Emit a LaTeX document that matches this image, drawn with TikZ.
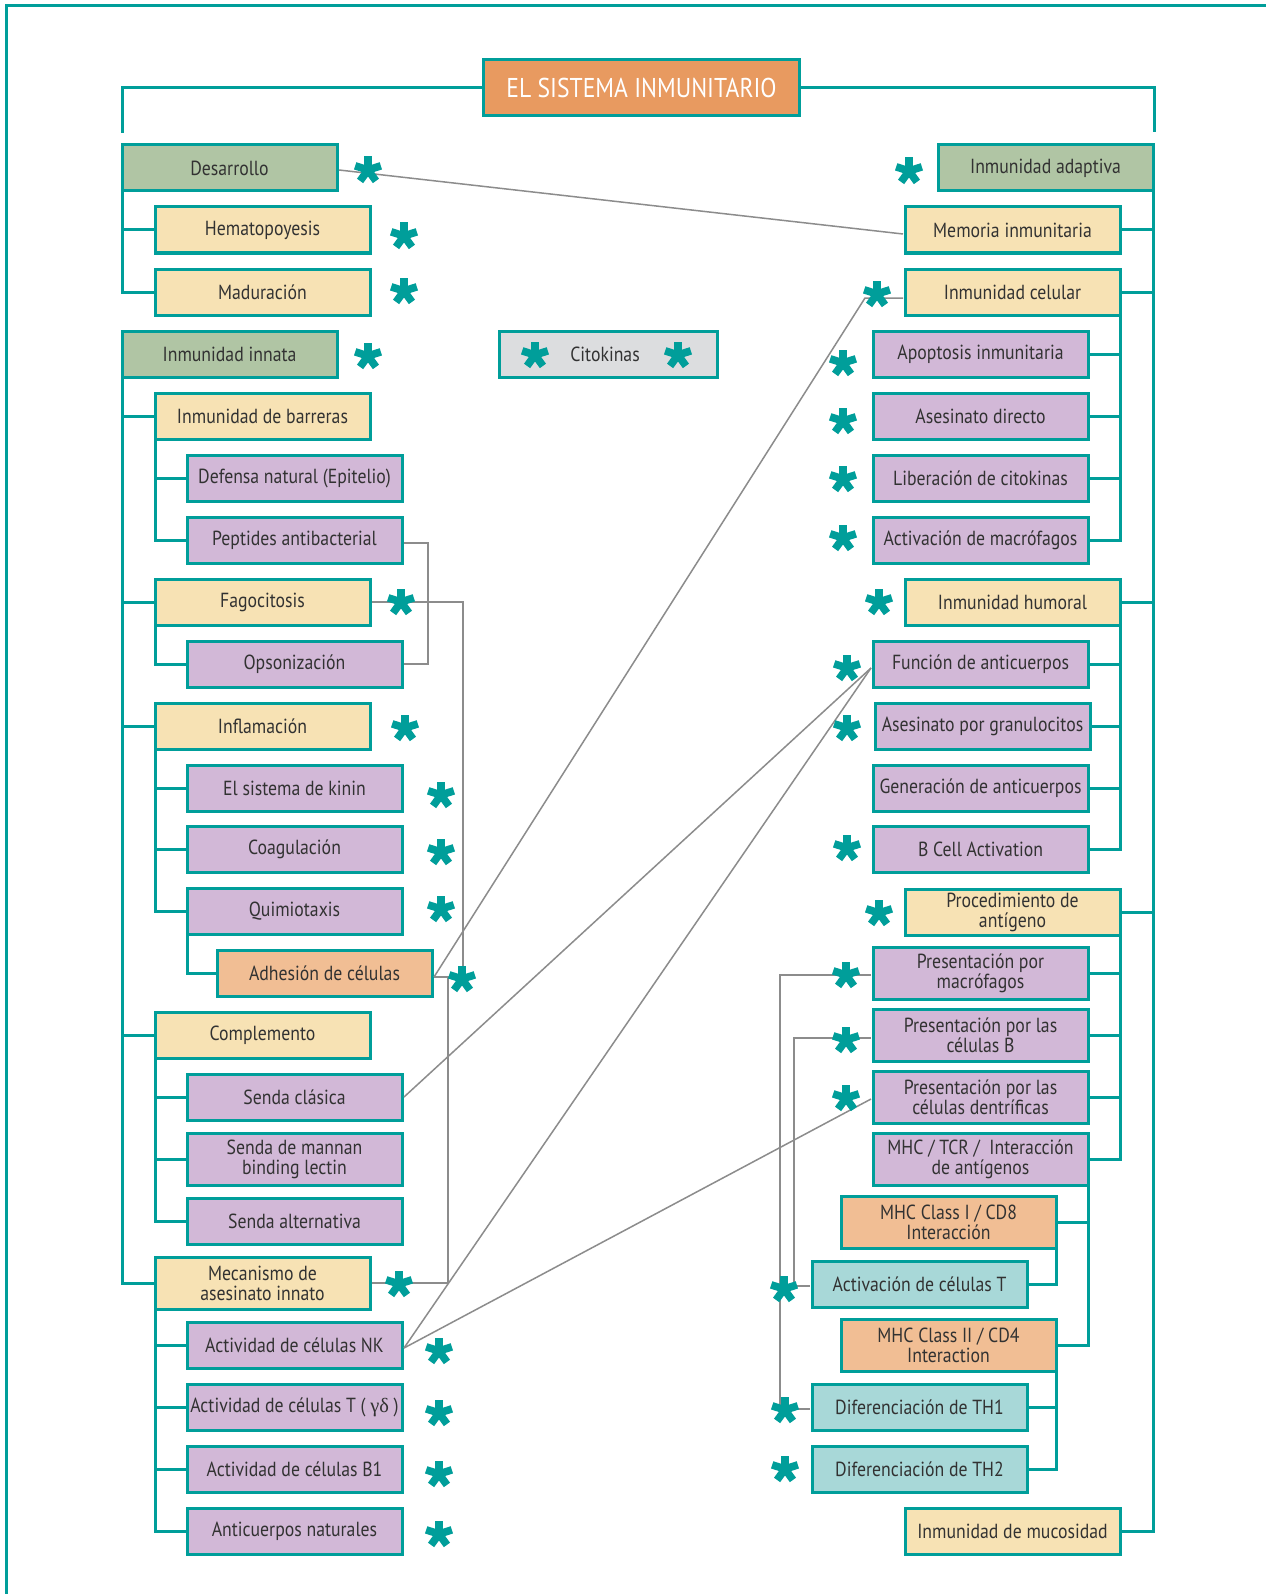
\documentclass[tikz,border=0pt]{standalone}
\usepackage{fontspec}
\setmainfont{PT Sans}[FakeStretch=0.87]
\newfontfamily\grk{Liberation Serif}
\definecolor{tl}{RGB}{0,158,154}
\definecolor{cgreen}{RGB}{176,197,164}
\definecolor{cyel}{RGB}{247,226,180}
\definecolor{cpur}{RGB}{210,184,215}
\definecolor{csal}{RGB}{241,190,148}
\definecolor{ccyan}{RGB}{168,216,216}
\definecolor{ctitle}{RGB}{232,154,96}
\definecolor{cgrey}{RGB}{220,221,223}
\definecolor{cline}{RGB}{140,140,140}
\definecolor{ctxt}{RGB}{50,50,50}
\newcommand\bxfont{\fontsize{10.2}{10}\selectfont}
\newcommand\ttlfont{\fontsize{13.6}{15}\selectfont}
\begin{document}
\begin{tikzpicture}[x=0.5pt,y=-0.5pt,
  bx/.style={draw=tl,line width=1.5pt,outer sep=0pt,minimum width=107.5pt,minimum height=23pt,inner sep=0pt,anchor=west,align=center,text=ctxt,font=\bxfont},
  tall/.style={minimum height=26pt},
  gr/.style={bx,fill=cgreen}, ye/.style={bx,fill=cyel}, pu/.style={bx,fill=cpur},
  sa/.style={bx,fill=csal}, cy/.style={bx,fill=ccyan},
  tree/.style={draw=tl,line width=1.5pt},
  link/.style={draw=cline,line width=0.75pt},
  ast/.pic={\foreach \a in {270,342,54,126,198}\draw[tl,line width=3.8pt](0,0)--(\a:13.5);}
]
\useasboundingbox (0,0) rectangle (1266,1594);
\fill[white] (0,0) rectangle (1266,1594);
% frame
\coordinate (fa) at (6,1594);
\coordinate (fb) at (6,6);
\coordinate (fc) at (1266,6);
\draw[tree] (fa) -- (fb) -- (fc);

% title
\node[draw=tl,line width=1.5pt,outer sep=0pt,fill=ctitle,minimum width=158pt,minimum height=28pt,inner sep=0pt,text=white,font=\ttlfont] (T) at (641.5,88) {EL SISTEMA INMUNITARIO};
\coordinate (tl0) at (122,133);
\coordinate (tr0) at (1154,132);
\draw[tree] (tl0) |- (T.west);
\draw[tree] (tr0) |- (T.east);

% legend
\node[bx,fill=cgrey,anchor=center,minimum width=109pt] (C) at (608,354) {\hspace*{-3pt}Citokinas};

% left column
\node[gr] (L0) at (122,168) {Desarrollo};
\node[ye] (L1) at (155,230) {Hematopoyesis};
\node[ye] (L2) at (155,292) {Maduración};
\node[gr] (L3) at (122,354) {Inmunidad innata};
\node[ye] (L4) at (155,416) {Inmunidad de barreras};
\node[pu] (L5) at (187,478) {Defensa natural (Epitelio)};
\node[pu] (L6) at (187,540) {Peptides antibacterial};
\node[ye] (L7) at (155,602) {Fagocitosis};
\node[pu] (L8) at (187,664) {Opsonización};
\node[ye] (L9) at (155,726) {Inflamación};
\node[pu] (L10) at (187,788) {El sistema de kinin};
\node[pu] (L11) at (187,849) {Coagulación};
\node[pu] (L12) at (187,911) {Quimiotaxis};
\node[sa] (L13) at (217,973) {Adhesión de células};
\node[ye] (L14) at (155,1035) {Complemento};
\node[pu] (L15) at (187,1097) {Senda clásica};
\node[pu,tall] (L16) at (187,1159) {Senda de mannan\\binding lectin};
\node[pu] (L17) at (187,1221) {Senda alternativa};
\node[ye,tall] (L18) at (155,1283) {Mecanismo de\\asesinato innato};
\node[pu] (L19) at (187,1345) {Actividad de células NK};
\node[pu] (L20) at (187,1407) {Actividad de células T ( {\grk γδ} )};
\node[pu] (L21) at (187,1469) {Actividad de células B1};
\node[pu] (L22) at (187,1531) {Anticuerpos naturales};

% right column
\node[gr] (R0) at (938,168) {Inmunidad adaptiva};
\node[ye] (R1) at (905,230) {Memoria inmunitaria};
\node[ye] (R2) at (905,292) {Inmunidad celular};
\node[pu] (R3) at (873,354) {Apoptosis inmunitaria};
\node[pu] (R4) at (873,416) {Asesinato directo};
\node[pu] (R5) at (873,478) {Liberación de citokinas};
\node[pu] (R6) at (873,540) {Activación de macrófagos};
\node[ye] (R7) at (905,602) {Inmunidad humoral};
\node[pu] (R8) at (873,664) {Función de anticuerpos};
\node[pu] (R9) at (875,726) {Asesinato por granulocitos};
\node[pu] (R10) at (873,788) {Generación de anticuerpos};
\node[pu] (R11) at (873,849) {B Cell Activation};
\node[ye] (R12) at (905,912) {Procedimiento de\\antígeno};
\node[pu,tall] (R13) at (873,973) {Presentación por\\macrófagos};
\node[pu,tall] (R14) at (873,1035) {Presentación por las\\células B};
\node[pu,tall] (R15) at (873,1097) {Presentación por las\\células dentríficas};
\node[pu,tall] (R16) at (873,1159) {MHC / TCR /\ \ Interacción\\de antígenos};
\node[sa,tall] (R17) at (841,1222) {MHC Class I / CD8\\Interacción};
\node[cy] (R18) at (812,1284) {Activación de células T};
\node[sa,tall] (R19) at (841,1345) {MHC Class II / CD4\\Interaction};
\node[cy] (R20) at (812,1407) {Diferenciación de TH1};
\node[cy] (R21) at (812,1469) {Diferenciación de TH2};
\node[ye] (R22) at (905,1531) {Inmunidad de mucosidad};

% left tree
\draw[tree] (L0.south west) |- (L2.west);
\draw[tree] (L0.south west |- L1.west) -- (L1.west);
\draw[tree] (L3.south west) |- (L18.west);
\foreach \n in {L4,L7,L9,L14} \draw[tree] (L3.south west |- \n.west) -- (\n.west);
\draw[tree] (L4.south west) |- (L6.west);
\draw[tree] (L4.south west |- L5.west) -- (L5.west);
\draw[tree] (L7.south west) |- (L8.west);
\draw[tree] (L9.south west) |- (L12.west);
\foreach \n in {L10,L11} \draw[tree] (L9.south west |- \n.west) -- (\n.west);
\draw[tree] (L12.south west) |- (L13.west);
\draw[tree] (L14.south west) |- (L17.west);
\foreach \n in {L15,L16} \draw[tree] (L14.south west |- \n.west) -- (\n.west);
\draw[tree] (L18.south west) |- (L22.west);
\foreach \n in {L19,L20,L21} \draw[tree] (L18.south west |- \n.west) -- (\n.west);

% right tree
\draw[tree] (R0.south east) |- (R22.east);
\foreach \n in {R1,R2,R7,R12} \draw[tree] (R0.south east |- \n.east) -- (\n.east);
\draw[tree] (R2.south east) |- (R6.east);
\foreach \n in {R3,R4,R5} \draw[tree] (R2.south east |- \n.east) -- (\n.east);
\draw[tree] (R7.south east) |- (R11.east);
\foreach \n in {R8,R9,R10} \draw[tree] (R7.south east |- \n.east) -- (\n.east);
\draw[tree] (R12.south east) |- (R16.east);
\foreach \n in {R13,R14,R15} \draw[tree] (R12.south east |- \n.east) -- (\n.east);
\draw[tree] (R16.south east) |- (R19.east);
\draw[tree] (R16.south east |- R17.east) -- (R17.east);
\draw[tree] (R17.south east) |- (R18.east);
\draw[tree] (R19.south east) |- (R21.east);
\draw[tree] (R19.south east |- R20.east) -- (R20.east);

% grey links
\draw[link] ([xshift=1pt,yshift=-1pt]L0.east) -- ([xshift=-1pt,yshift=-2pt]R1.west);
\draw[link] ([xshift=-1pt,yshift=-3pt]R2.west) -- ++(-38,0) -- ([xshift=1pt,yshift=-2pt]L13.east);
\draw[link] ([xshift=1pt]L7.east) -- ++(91,0) |- ([xshift=1pt,yshift=-2pt]L13.east);
\draw[link] ([xshift=1pt,yshift=-2pt]L13.east) -- ++(14,0) |- ([xshift=1pt]L18.east);
\draw[link] ([xshift=1pt,yshift=-1.5pt]L6.east) -- ++(24,0) |- ([xshift=1pt]L8.east);
\draw[link] ([xshift=1pt]L15.east) -- ([xshift=-1pt,yshift=-2pt]R8.west);
\draw[link] ([xshift=1pt,yshift=-1.5pt]L19.east) -- ([xshift=-1pt,yshift=-2pt]R8.west);
\draw[link] ([xshift=1pt,yshift=-1.5pt]L19.east) -- ([xshift=-1pt,yshift=-1pt]R15.west);
\draw[link] ([xshift=-1pt,yshift=-1pt]R13.west) -- ++(-91,0) |- ([xshift=-1pt,yshift=-1pt]R20.west);
\draw[link] ([xshift=-1pt,yshift=-1.5pt]R14.west) -- ++(-77,0) |- ([xshift=-1pt,yshift=-1pt]R18.west);

% stars
\foreach \p in {(368,170),(404,236),(404,291),(368,356),(535,355),(678,355),(401,602),(405,728),(441,795),(441,852),(441,909),(462,979),(399,1284),(439,1351),(439,1413),(439,1474),(439,1534),(909,171),(877,294),(843,363),(843,421),(843,479),(843,538),(879,602),(847,668),(847,728),(847,848),(879,913),(846,975),(846,1040),(846,1098),(784,1289),(785,1410),(785,1469)}
  \pic at \p {ast};
\end{tikzpicture}
\end{document}
